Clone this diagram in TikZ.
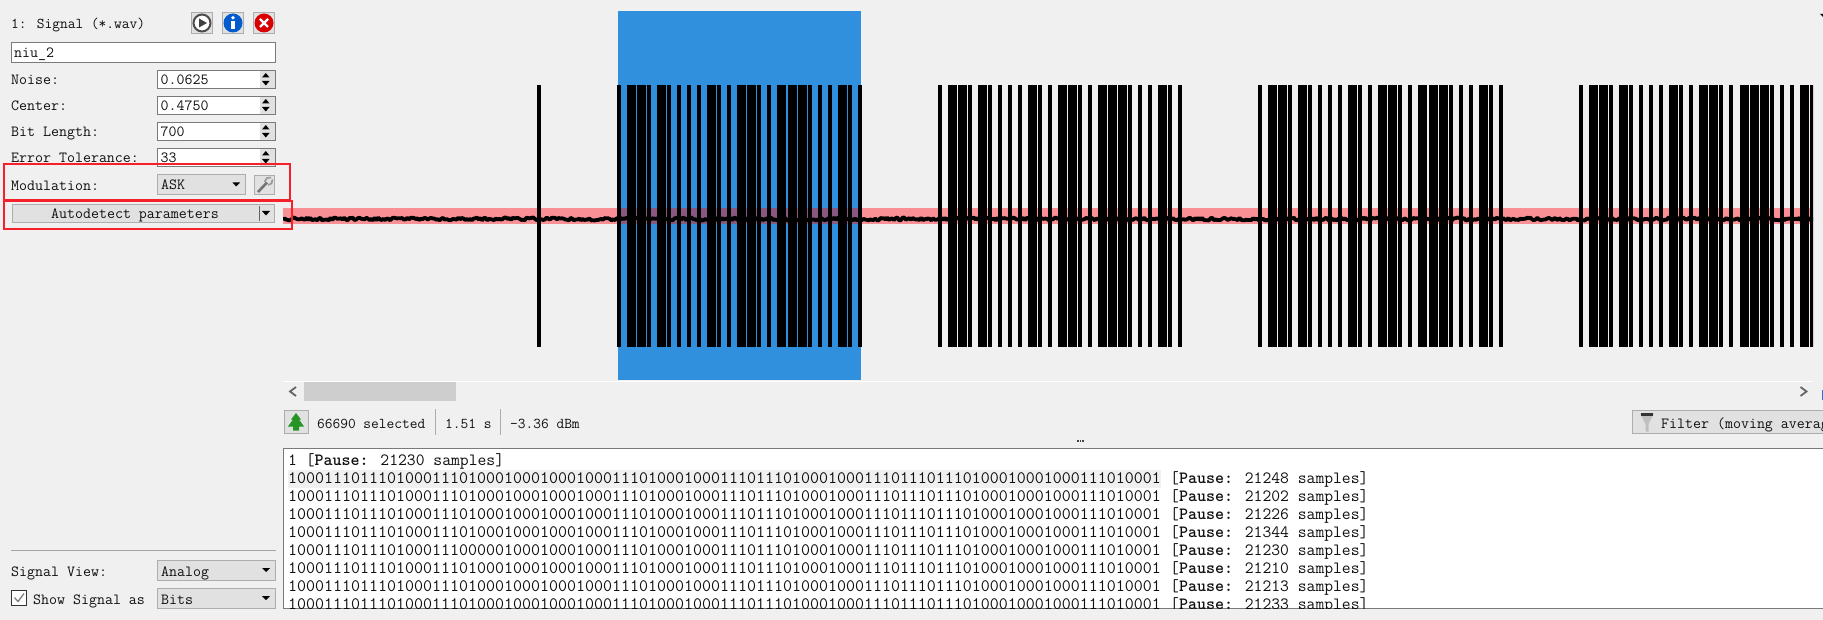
\documentclass[tikz,border=0pt]{standalone}
\usepackage{fontspec}
\definecolor{appbg}{HTML}{F0F0F0}
\definecolor{btnfill}{HTML}{E1E1E1}
\definecolor{btnedge}{HTML}{ADADAD}
\definecolor{fieldedge}{HTML}{7A7A7A}
\definecolor{selblue}{HTML}{3090DD}
\definecolor{bandpink}{HTML}{F99095}
\definecolor{bandsel}{HTML}{885880}
\definecolor{inktext}{HTML}{101010}
\definecolor{markred}{HTML}{F5202A}
\tikzset{
    paneltext/.style={anchor=base west, inner sep=0pt, text=inktext, font=\ttfamily\fontsize{15.5}{15}\selectfont},
    statustext/.style={anchor=base west, inner sep=0pt, text=inktext, font=\ttfamily\fontsize{15}{15}\selectfont},
    bittext/.style={anchor=base west, inner sep=0pt, text=inktext, font=\ttfamily\fontsize{17.47}{17}\selectfont},
    pausetext/.style={anchor=base west, inner sep=0pt, text=inktext, font=\ttfamily\fontsize{17.15}{17}\selectfont},
    fieldbox/.style={draw=fieldedge, fill=white, line width=1pt},
    combobox/.style={draw=btnedge, fill=btnfill, line width=1pt},
    markbox/.style={draw=markred, line width=2pt},
    barfill/.style={fill=black},
    downtip/.style={fill=black}
}
\newcommand{\bitsrow}{1000111011101000111010001000100010001110100010001110111010001000111011101110100010001000111010001}
\newcommand{\bitsalt}{1000111011101000111000001000100010001110100010001110111010001000111011101110100010001000111010001}
\begin{document}
\begin{tikzpicture}[x=1pt, y=-1pt]
        \useasboundingbox (0,0) rectangle (1823,620);
        \clip (0,0) rectangle (1823,620);
        \fill[appbg] (0,0) rectangle (1823,620);

        % signal view
        \fill[selblue] (618,11.5) rectangle (861,380);
        \fill[bandpink] (283,208) rectangle (1813,224);
        \fill[bandsel] (618,208) rectangle (861,224);
        \begin{scope}
            \clip (283,0) rectangle (1813,400);
            \fill[barfill] (537,85) rectangle ++(4,262);
            \foreach \bx in {617,937.5,1258,1579}{
                \foreach \wd [count=\i from 0] in {4,9,9,4,9,4,4,4,4,9,4,4,9,9,4,4,9,9,9,4,4,4,9,4,4}{
                    \fill[barfill] ({\bx+\i*10.03},85) rectangle ++(\wd,262);
                }
            }
            \pgfmathsetseed{1823}
            \draw[line width=3.8pt, line join=bevel] plot[samples=900, domain=283:1813] (\x,{219+1.5*rand});
        \end{scope}
        \draw[white, line width=1pt] (283,381) -- (1813,381);
        \fill[btnedge!60!white] (304,382) rectangle (456,401);
        \draw[black!60, line width=1.8pt] (296,387) -- (290,391.5) -- (296,396);
        \draw[black!60, line width=1.8pt] (1800.5,387) -- (1806.5,391.5) -- (1800.5,396);
        \fill[selblue!80!blue] (1822,390) rectangle (1823,400);
        \fill (1820,14) -- (1823,14) -- (1823,17) -- cycle;

        % left panel
        \node (title) at (11,29) [statustext]{1: Signal (*.wav)};
        \draw[combobox] (191.5,12.5) rectangle (212.5,33.5);
        \draw[combobox] (222.5,12.5) rectangle (243.5,33.5);
        \draw[combobox] (253.5,12.5) rectangle (274.5,33.5);
        \node (play) at (202,23) [circle, draw=black!70, line width=2pt, fill=white, minimum size=17pt, inner sep=0pt]{};
        \fill[black!75] (199,18.5) -- (207,23) -- (199,27.5) -- cycle;
        \node (info) at (233,23) [circle, fill=blue!55!cyan!80!black, minimum size=19pt, inner sep=0pt]{};
        \fill[white] (231.3,21) rectangle (234.7,29);
        \fill[white] (233,17.8) circle (1.9pt);
        \node (close) at (264,23) [circle, fill=red!85!black, minimum size=19pt, inner sep=0pt]{};
        \draw[white, line width=2.4pt] (260,19) -- (268,27) (268,19) -- (260,27);

        \draw[fieldbox] (11.5,42.5) rectangle (275.5,62.5);
        \node (name) at (14,58) [paneltext]{niu\_2};

        \foreach \nm/\lab/\val/\y in {noise/Noise:/0.0625/70.5, center/Center:/0.4750/96.5, bitlen/Bit Length:/700/122.5, errtol/Error Tolerance:/33/148.5}{
            \node (lab\nm) at (11,{\y+14.5}) [paneltext]{\lab};
            \draw[fieldbox] (157.5,\y) rectangle ++(118,18);
            \node (val\nm) at (160.5,{\y+14.5}) [paneltext]{\val};
            \fill[btnfill] (260,{\y+1}) rectangle (275,{\y+17.5});
            \fill[black] (262,{\y+7}) -- (269.5,{\y+7}) -- (265.8,{\y+2.5}) -- cycle;
            \fill[black] (262,{\y+10.5}) -- (269.5,{\y+10.5}) -- (265.8,{\y+15}) -- cycle;
        }

        \node (labmod) at (11,190.7) [paneltext]{Modulation:};
        \draw[combobox] (157.5,174.5) rectangle (245.5,194.5);
        \node (valmod) at (161,190) [paneltext]{ASK};
        \fill[downtip] (232.5,182.5) -- (240,182.5) -- (236.2,186.5) -- cycle;
        \draw[combobox] (254.5,175.5) rectangle (274.5,194.5);
        \draw[black!55, line width=2.6pt] (258,192) -- (267,182.5);
        \draw[black!40, line width=1.6pt] (264.5,182) -- (267,178) -- (271,177.5);
        \draw[black!40, line width=1.6pt] (268,185) -- (271.5,183.5) -- (272.5,179.5);

        \draw[combobox] (12.5,204.5) rectangle (274.5,222.5);
        \node (detect) at (135,219) [paneltext, anchor=base]{Autodetect parameters};
        \draw[black!60] (259,206) -- (259,221);
        \fill[downtip] (262,211) -- (270,211) -- (266,215.5) -- cycle;

        \draw[markbox] (4,164) rectangle (289.5,200);
        \draw[markbox] (3.5,201.5) rectangle (292,229);

        \draw[black!35] (11,550.5) -- (276,550.5);
        \node (labview) at (11,576) [paneltext]{Signal View:};
        \draw[combobox] (157.5,560.5) rectangle (275.5,580.5);
        \node (valview) at (161,576) [paneltext]{Analog};
        \fill[downtip] (262,568) -- (270,568) -- (266,572) -- cycle;
        \draw[fill=white, draw=black!80] (11.5,590.5) rectangle (26.5,605.5);
        \draw[black!50, line width=1.3pt] (14.5,597.5) -- (18,601.5) -- (24,593.5);
        \node (labshow) at (33,604) [paneltext]{Show Signal as};
        \draw[combobox] (157.5,588.5) rectangle (275.5,608.5);
        \node (valshow) at (161,604) [paneltext]{Bits};
        \fill[downtip] (262,596) -- (270,596) -- (266,600) -- cycle;

        % status row
        \draw[combobox] (284.5,410.5) rectangle (308.5,433.5);
        \fill[green!50!black!85!white] (296,413) -- (301,419.5) -- (299,419.5) -- (304,426.5) -- (299,426.5) -- (299,430.5) -- (293,430.5) -- (293,426.5) -- (288,426.5) -- (293,419.5) -- (291,419.5) -- cycle;
        \node (sel) at (317,428.3) [statustext]{66690 selected};
        \draw[btnedge] (435.5,409) -- (435.5,435);
        \node (dur) at (445,428.3) [statustext]{1.51 s};
        \draw[btnedge] (500.5,409) -- (500.5,435);
        \node (pow) at (510,428.3) [statustext]{-3.36 dBm};
        \draw[combobox] (1632.5,410.5) rectangle (1830,433.5);
        \fill[black!25] (1640,413.5) -- (1654,413.5) -- (1648.5,424) -- (1648.5,431.5) -- (1645.5,431.5) -- (1645.5,424) -- cycle;
        \fill[black!80] (1641,413) rectangle (1653,415.5);
        \node (filter) at (1661,428.3) [paneltext]{Filter (moving averag};
        \foreach \dx in {1077,1079.5,1082}{
            \fill[black!75] (\dx,440) rectangle ++(1.5,2);
        }

        % demodulated view
        \draw[fill=white, draw=fieldedge, line width=1pt] (283.5,448) rectangle (1830,608.5);
        \begin{scope}
            \clip (284,448.5) rectangle (1823,608);
            \fill[appbg] (288,470) rectangle (1161,488);
            \node (head) at (288,465) [pausetext]{1 [\textbf{Pause:} 21230 samples]};
            \foreach \val/\str [count=\i from 0] in {21248/\bitsrow, 21202/\bitsrow, 21226/\bitsrow, 21344/\bitsrow, 21230/\bitsalt, 21210/\bitsrow, 21213/\bitsrow, 21233/\bitsrow}{
                \node (bits\i) at (288,{483.3+18*\i}) [bittext]{\str};
                \node (pause\i) at (1170,{483.3+18*\i}) [pausetext]{[\textbf{Pause:} \val{} samples]};
            }
        \end{scope}
    \end{tikzpicture}
\end{document}
